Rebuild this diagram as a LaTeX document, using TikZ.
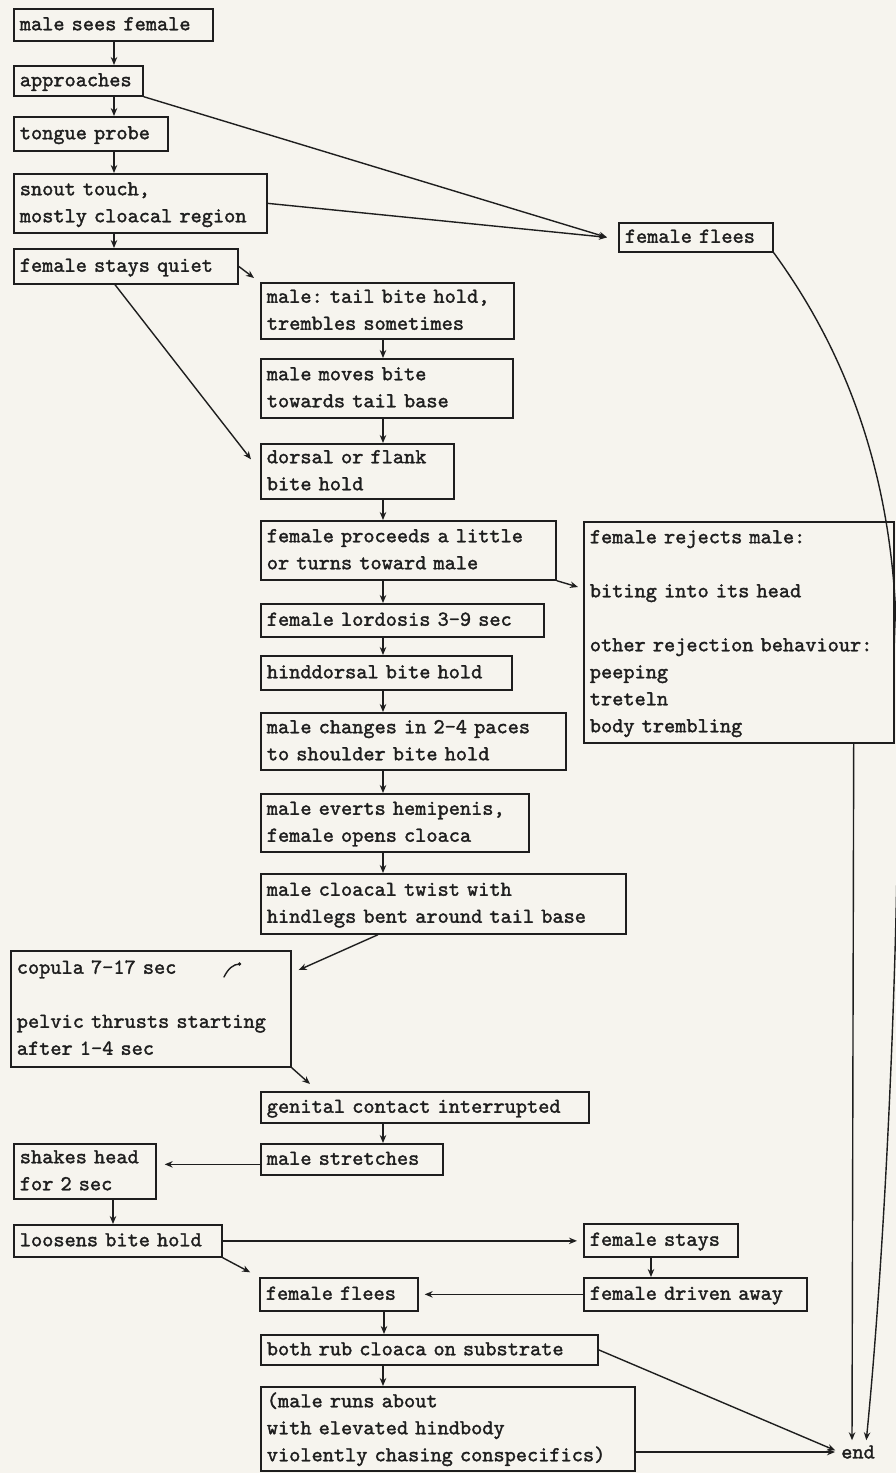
\documentclass[tikz,border=0pt]{standalone}
\usepackage{fontspec}
\newfontfamily\boxtt{lmmono10-regular.otf}[FakeBold=1.6]
\usetikzlibrary{arrows.meta,calc}
\definecolor{paper}{RGB}{246,244,238}
\definecolor{ink}{RGB}{30,30,30}
\newcommand\boxfont{\boxtt\fontsize{21.3pt}{27pt}\selectfont\frenchspacing}
\tikzset{
  stepbox/.style={draw=ink, line width=1.7pt, anchor=north west, align=left,
    inner xsep=6pt, inner ysep=0pt, font=\boxfont, text=ink,
    execute at begin node=\strut, execute at end node=\strut},
  arr/.style={draw=ink, line width=1.4pt, -{Stealth[length=8pt,width=6.5pt]}},
}
\begin{document}
\begin{tikzpicture}[x=1pt,y=-1pt]
\useasboundingbox (0,0) rectangle (896,1473);
\fill[paper] (0,0) rectangle (896,1473);

% left column: approach
\node[stepbox, text width=187pt, minimum height=32pt] (b1) at (13,8) {male sees female};
\node[stepbox, text width=117pt, minimum height=30pt] (b2) at (13,65) {approaches};
\node[stepbox, text width=142pt, minimum height=34pt] (b3) at (13,116) {tongue probe};
\node[stepbox, text width=241pt, minimum height=59pt] (b4) at (13,173) {snout touch,\\ mostly cloacal region};
\node[stepbox, text width=212pt, minimum height=35pt] (b5) at (13,248) {female stays quiet};

% middle column: bite holds and copulation
\node[stepbox, text width=241pt, minimum height=56pt] (b6) at (260,282) {male: tail bite hold,\\ trembles sometimes};
\node[stepbox, text width=240pt, minimum height=59pt] (b7) at (260,358) {male moves bite\\ towards tail base};
\node[stepbox, text width=181pt, minimum height=55pt] (b8) at (260,443) {dorsal or flank\\ bite hold};
\node[stepbox, text width=283pt, minimum height=59pt] (b9) at (260,520) {female proceeds a little\\ or turns toward male};
\node[stepbox, text width=271pt, minimum height=33pt] (b10) at (260,603) {female lordosis 3-9 sec};
\node[stepbox, text width=239pt, minimum height=34pt] (b11) at (260,655) {hinddorsal bite hold};
\node[stepbox, text width=293pt, minimum height=57pt] (b12) at (260,712) {male changes in 2-4 paces\\ to shoulder bite hold};
\node[stepbox, text width=256pt, minimum height=58pt] (b13) at (260,793) {male everts hemipenis,\\ female opens cloaca};
\node[stepbox, text width=353pt, minimum height=60pt] (b14) at (260,873) {male cloacal twist with\\ hindlegs bent around tail base};
\node[stepbox, text width=268pt, minimum height=116pt] (b15) at (10,950) {copula 7-17 sec\\[27pt] pelvic thrusts starting\\ after 1-4 sec};
\node[stepbox, text width=316pt, minimum height=31pt] (b16) at (260,1091) {genital contact interrupted};
\node[stepbox, text width=170pt, minimum height=31pt] (b17) at (260,1143) {male stretches};
\node[stepbox, text width=130pt, minimum height=55pt] (b18) at (13,1143) {shakes head\\ for 2 sec};
\node[stepbox, text width=196pt, minimum height=32pt] (b19) at (13,1224) {loosens bite hold};
\node[stepbox, text width=142pt, minimum height=33pt] (b20) at (583,1223) {female stays};
\node[stepbox, text width=211pt, minimum height=33pt] (b21) at (583,1277) {female driven away};
\node[stepbox, text width=146pt, minimum height=33pt] (b22) at (259,1277) {female flees};
\node[stepbox, text width=325pt, minimum height=30pt] (b23) at (260,1334) {both rub cloaca on substrate};
\node[stepbox, text width=362pt, minimum height=84pt] (b24) at (260,1386) {(male runs about\\ with elevated hindbody\\ violently chasing conspecifics)};

% right column: outcomes
\node[stepbox, text width=142pt, minimum height=29pt] (ff1) at (618,222) {female flees};
\node[stepbox, text width=298pt, minimum height=221pt] (rej) at (583,521) {female rejects male:\\[27pt] biting into its head\\[27pt] other rejection behaviour:\\ peeping\\ treteln\\ body trembling};
\node[font=\boxfont, text=ink, inner sep=2pt] (end) at (858,1452) {end};

% small pen stroke inside the copula box
\draw[ink, line width=1.4pt, line cap=round] (224,977) .. controls (228,969) and (233,964) .. (240,964);
\fill[ink] (239.5,964) circle (1.8pt);

% main sequence, left column
\draw[arr] ([xshift=101pt]b1.south west) -- ([xshift=101pt]b2.north west);
\draw[arr] ([xshift=101pt]b2.south west) -- ([xshift=101pt]b3.north west);
\draw[arr] ([xshift=101pt]b3.south west) -- ([xshift=101pt]b4.north west);
\draw[arr] ([xshift=101pt]b4.south west) -- ([xshift=101pt]b5.north west);

% main sequence, middle column
\foreach \a/\b in {b6/b7, b7/b8, b8/b9, b9/b10, b10/b11, b11/b12, b12/b13, b13/b14, b16/b17, b23/b24}
  \draw[arr] ([xshift=123pt]\a.south west) -- ([xshift=123pt]\b.north west);
\draw[arr] ([xshift=125pt]b22.south west) -- ([xshift=124pt]b23.north west);

% branches
\draw[arr] (b2.south east) -- ([xshift=-11pt]ff1.west);
\draw[arr] (b4.east) -- ([xshift=-11pt]ff1.west);
\draw[arr] (b5.east) -- ([xshift=-6pt,yshift=4pt]b6.north west);
\draw[arr] ([xshift=102pt]b5.south west) -- ([xshift=-9pt,yshift=12pt]b8.west);
\draw[arr] (b9.south east) -- ([xshift=-5pt,yshift=-66pt]rej.north west);
\draw[arr] ([xshift=118pt]b14.south west) -- ([xshift=7pt,yshift=-20pt]b15.north east);
\draw[arr] (b15.south east) -- ([xshift=50pt,yshift=7pt]b16.north west);
\draw[arr, shorten >=8pt] ($(b17.west)+(0,5)$) -- ($(b17.west -| b18.east)+(0,5)$);
\draw[arr] ([xshift=100pt]b18.south west) -- ([xshift=100pt]b19.north west);
\draw[arr, shorten >=6pt] (b19.east) -- (b19.east -| b20.west);
\draw[arr, shorten >=10pt] (b19.south east) -- (b22.north west);
\draw[arr] ([xshift=68pt]b20.south west) -- ([xshift=68pt]b21.north west);
\draw[arr, shorten >=6pt] (b21.west) -- (b21.west -| b22.east);

% endings
\draw[arr, shorten >=4pt] (b23.east) -- (end.west);
\draw[arr, shorten >=4pt] (b24.east |- end.west) -- (end.west);
\draw[arr, shorten >=3pt] ([xshift=-41pt]rej.south east) -- ([xshift=-6pt]end.north);
\draw[arr, shorten >=3pt] (ff1.south east) .. controls (830,330) and (885,440) .. (895,600)
  .. controls (905,800) and (890,1200) .. ([xshift=8pt]end.north);
\end{tikzpicture}
\end{document}
